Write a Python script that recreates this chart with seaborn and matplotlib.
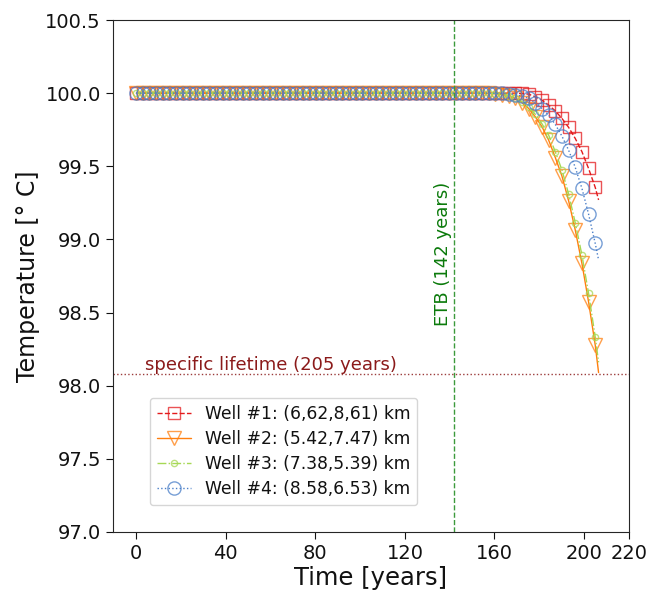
import numpy as np
import pandas as pd
import matplotlib
matplotlib.use("Agg")
import matplotlib.pyplot as plt
import seaborn as sns

# ---------------- data ----------------
years = [0.00, 2.97, 5.94, 8.91, 11.88, 14.86, 17.83, 20.80, 23.77, 26.74,
         29.71, 32.68, 35.65, 38.62, 41.59, 44.57, 47.54, 50.51, 53.48, 56.45,
         59.42, 62.39, 65.36, 68.33, 71.30, 74.28, 77.25, 80.22, 83.19, 86.16,
         89.13, 92.10, 95.07, 98.04, 101.01, 103.99, 106.96, 109.93, 112.90, 115.87,
         118.84, 121.81, 124.78, 127.75, 130.72, 133.70, 136.67, 139.64, 142.61, 145.58,
         148.55, 151.52, 154.49, 157.46, 160.43, 163.41, 166.38, 169.35, 172.32, 175.29,
         178.26, 181.23, 184.20, 187.17, 190.14, 193.12, 196.09, 199.06, 202.03, 205.00,
         206.50]

well1 = [100.000, 100.000, 100.000, 100.000, 100.000, 100.000, 100.000, 100.000, 100.000, 100.000,
         100.000, 100.000, 100.000, 100.000, 100.000, 100.000, 100.000, 100.000, 100.000, 100.000,
         100.000, 100.000, 100.000, 100.000, 100.000, 100.000, 100.000, 100.000, 100.000, 100.000,
         100.000, 100.000, 100.000, 100.000, 100.000, 100.000, 100.000, 100.000, 100.000, 100.000,
         100.000, 100.000, 100.000, 100.000, 100.000, 100.000, 100.000, 100.000, 100.000, 100.000,
         100.000, 100.000, 100.000, 100.000, 100.000, 100.000, 100.000, 100.000, 99.998, 99.993,
         99.975, 99.952, 99.918, 99.879, 99.827, 99.766, 99.690, 99.600, 99.485, 99.356,
         99.270]

well2 = [100.000, 100.000, 100.000, 100.000, 100.000, 100.000, 100.000, 100.000, 100.000, 100.000,
         100.000, 100.000, 100.000, 100.000, 100.000, 100.000, 100.000, 100.000, 100.000, 100.000,
         100.000, 100.000, 100.000, 100.000, 100.000, 100.000, 100.000, 100.000, 100.000, 100.000,
         100.000, 100.000, 100.000, 100.000, 100.000, 100.000, 100.000, 100.000, 100.000, 100.000,
         100.000, 100.000, 100.000, 100.000, 100.000, 100.000, 100.000, 100.000, 100.000, 100.000,
         100.000, 100.000, 99.999, 99.998, 99.996, 99.990, 99.980, 99.964, 99.936, 99.895,
         99.838, 99.770, 99.679, 99.560, 99.433, 99.264, 99.064, 98.836, 98.573, 98.278,
         98.090]

well3 = [100.000, 100.000, 100.000, 100.000, 100.000, 100.000, 100.000, 100.000, 100.000, 100.000,
         100.000, 100.000, 100.000, 100.000, 100.000, 100.000, 100.000, 100.000, 100.000, 100.000,
         100.000, 100.000, 100.000, 100.000, 100.000, 100.000, 100.000, 100.000, 100.000, 100.000,
         100.000, 100.000, 100.000, 100.000, 100.000, 100.000, 100.000, 100.000, 100.000, 100.000,
         100.000, 100.000, 100.000, 100.000, 100.000, 100.000, 100.000, 100.000, 100.000, 100.000,
         100.000, 100.000, 100.000, 99.999, 99.997, 99.992, 99.982, 99.967, 99.942, 99.905,
         99.855, 99.790, 99.713, 99.599, 99.474, 99.310, 99.113, 98.893, 98.631, 98.334,
         98.160]

well4 = [100.000, 100.000, 100.000, 100.000, 100.000, 100.000, 100.000, 100.000, 100.000, 100.000,
         100.000, 100.000, 100.000, 100.000, 100.000, 100.000, 100.000, 100.000, 100.000, 100.000,
         100.000, 100.000, 100.000, 100.000, 100.000, 100.000, 100.000, 100.000, 100.000, 100.000,
         100.000, 100.000, 100.000, 100.000, 100.000, 100.000, 100.000, 100.000, 100.000, 100.000,
         100.000, 100.000, 100.000, 100.000, 100.000, 100.000, 100.000, 100.000, 100.000, 100.000,
         100.000, 100.000, 100.000, 100.000, 99.999, 99.998, 99.996, 99.990, 99.980, 99.964,
         99.934, 99.895, 99.850, 99.786, 99.706, 99.610, 99.492, 99.349, 99.173, 98.973,
         98.860]

labels = ["Well #1: (6,62,8,61) km", "Well #2: (5.42,7.47) km",
          "Well #3: (7.38,5.39) km", "Well #4: (8.58,6.53) km"]
etb_year = 142
lifetime_temp = 98.08
x_ticks = [0, 40, 80, 120, 160, 200, 220]
y_ticks = [97.0, 97.5, 98.0, 98.5, 99.0, 99.5, 100.0, 100.5]

# ---------------- style ----------------
sns.set_style("ticks")
plt.rcParams["font.family"] = ["DejaVu Sans"]
plt.rcParams["text.color"] = "#111111"
plt.rcParams["axes.labelcolor"] = "#111111"
plt.rcParams["xtick.color"] = "#111111"
plt.rcParams["ytick.color"] = "#111111"

colors = ["#e41a1c", "#ff7f0e", "#a6d854", "#4a7fc8"]
linestyles = ["--", "-", "-.", ":"]
markers = ["s", "v", "o", "o"]
msizes = [9, 10.5, 4.5, 9.5]
series = [well1, well2, well3, well4]

fig = plt.figure(figsize=(6.64, 5.92), dpi=100)
ax = fig.add_axes([0.1697, 0.1014, 0.7773, 0.8648])

n_marks = len(years) - 1
for vals, lab, c, ls, mk, ms in zip(series, labels, colors, linestyles, markers, msizes):
    df = pd.DataFrame({"Time": years, "Temp": vals})
    edge = matplotlib.colors.to_rgba(c, 0.75)
    sns.lineplot(data=df, x="Time", y="Temp", ax=ax, color=c, linestyle=ls,
                 linewidth=1.0, marker=mk, markersize=ms, mfc="none", mec=edge,
                 mew=1.0, markevery=list(range(n_marks)), label=lab,
                 estimator=None, sort=False)

ax.axvline(etb_year, color="#3c9a3c", linestyle="--", linewidth=1.0)
ax.text(etb_year - 5.2, 98.9, "ETB (142 years)", rotation=90, ha="center",
        va="center", color="#0b7a0b", fontsize=13)
ax.axhline(lifetime_temp, color="#8b1a1a", linestyle=":", linewidth=1.0, alpha=0.85)
ax.text(4, 98.105, "specific lifetime (205 years)", ha="left", va="baseline",
        color="#8b1a1a", fontsize=13)

ax.set_xlim(-10.5, 220)
ax.set_ylim(97.0, 100.5)
ax.set_xticks(x_ticks)
ax.set_yticks(y_ticks)
ax.set_yticklabels([f"{v:.1f}" for v in y_ticks])
ax.tick_params(labelsize=14, length=5)
ax.set_xlabel("Time [years]", fontsize=17.5, labelpad=2)
ax.set_ylabel("Temperature [° C]", fontsize=17, labelpad=4)

leg = ax.legend(loc="upper left", bbox_to_anchor=(0.072, 0.262), borderaxespad=0,
                fontsize=12.3, labelspacing=0.42, frameon=True)

fig.savefig("out.png", dpi=100)
